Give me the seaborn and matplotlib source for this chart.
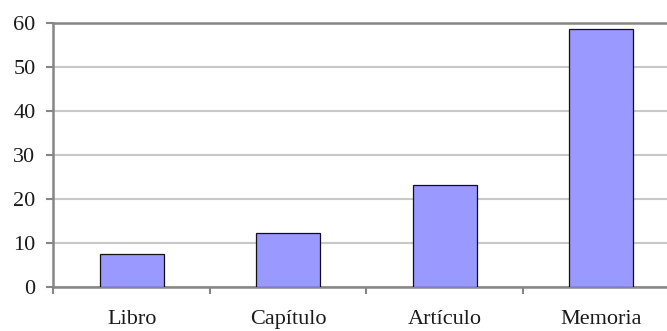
import matplotlib
matplotlib.use("Agg")
import matplotlib.pyplot as plt
import seaborn as sns
import pandas as pd

categories = ["Libro", "Capítulo", "Artículo", "Memoria"]
values = [7.4, 12.3, 23.2, 58.5]
y_ticks = [0, 10, 20, 30, 40, 50, 60]

df = pd.DataFrame({"tipo": categories, "cantidad": values})

sns.set_theme(style="white")
plt.rcParams["font.family"] = ["Liberation Serif", "DejaVu Serif"]

fig = plt.figure(figsize=(6.67, 3.31), dpi=100)
ax = fig.add_axes([0.0802, 0.1338, 0.9385, 0.7976])

sns.barplot(data=df, x="tipo", y="cantidad", color="#9999FF", width=0.41,
            edgecolor="#111111", linewidth=0.9, saturation=1, ax=ax, zorder=3)

ax.set_xlim(-0.5, 3.5)
ax.set_ylim(0, 60)
ax.set_yticks(y_ticks)
ax.set_xlabel("")
ax.set_ylabel("")

# horizontal gridlines
ax.yaxis.grid(True, color="#c8c8c8", linewidth=1.5, zorder=0)
ax.set_axisbelow(True)

axis_gray = "#868686"
for side in ["left", "bottom", "top"]:
    ax.spines[side].set_visible(True)
    ax.spines[side].set_color(axis_gray)
    ax.spines[side].set_linewidth(1.8)
ax.spines["right"].set_visible(False)

# y ticks outward on the left
ax.tick_params(axis="y", which="major", direction="out", length=5, width=1.5,
               color=axis_gray, pad=8, labelsize=16, left=True, labelcolor="#1a1a1a")
# category labels centred, separator ticks between categories
ax.tick_params(axis="x", which="major", length=0, pad=17, labelsize=16,
               labelcolor="#1a1a1a")
ax.set_xticks([-0.5, 0.5, 1.5, 2.5, 3.5], minor=True)
ax.tick_params(axis="x", which="minor", direction="out", length=5, width=1.5,
               color=axis_gray, bottom=True)

fig.savefig("out.png", dpi=100)
